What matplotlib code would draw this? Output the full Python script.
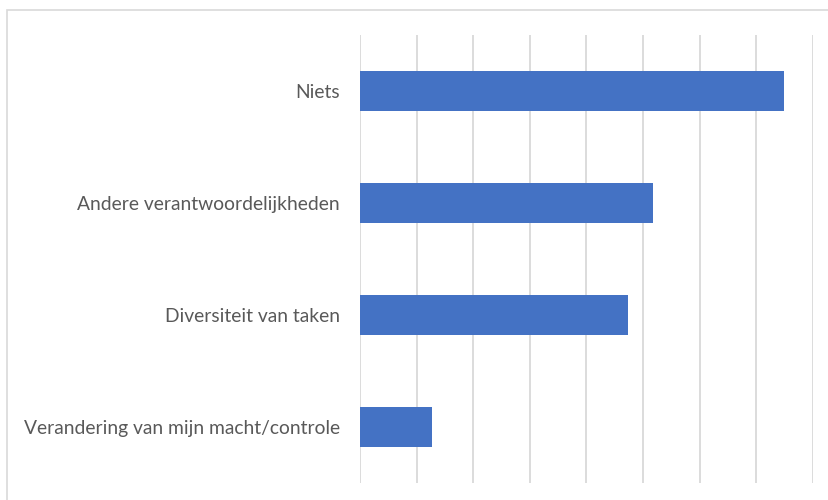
import matplotlib.pyplot as plt
from matplotlib.patches import Rectangle

# Data
categories = ["Niets", "Andere verantwoordelijkheden", "Diversiteit van taken",
              "Verandering van mijn macht/controle"]
values = [7.48, 5.18, 4.74, 1.28]

fig = plt.figure(figsize=(8.29, 5), dpi=100)
ax = fig.add_axes([360 / 829, 17 / 500, 453 / 829, 448 / 500])

ax.barh(range(len(categories)), values, height=0.355, color="#4472C4", zorder=3)

ax.set_xlim(0, 8)
ax.set_ylim(3.5, -0.5)
ax.set_xticks(range(0, 9))
ax.xaxis.grid(True, color="#d9d9d9", linewidth=1.3, zorder=0)
ax.tick_params(axis="x", length=0, labelbottom=False)
ax.tick_params(axis="y", length=0, pad=14.4)
ax.set_yticks(range(len(categories)))
ax.set_yticklabels(categories, fontsize=13.9, color="#595959", family="Lato")
for s in ax.spines.values():
    s.set_visible(False)

# chart border
fig.patches.append(Rectangle((7 / 829, -0.1), 1.1, 1.1 - 10 / 500,
                             transform=fig.transFigure, fill=False,
                             edgecolor="#d9d9d9", linewidth=1.2))

fig.savefig("out.png", dpi=100)
